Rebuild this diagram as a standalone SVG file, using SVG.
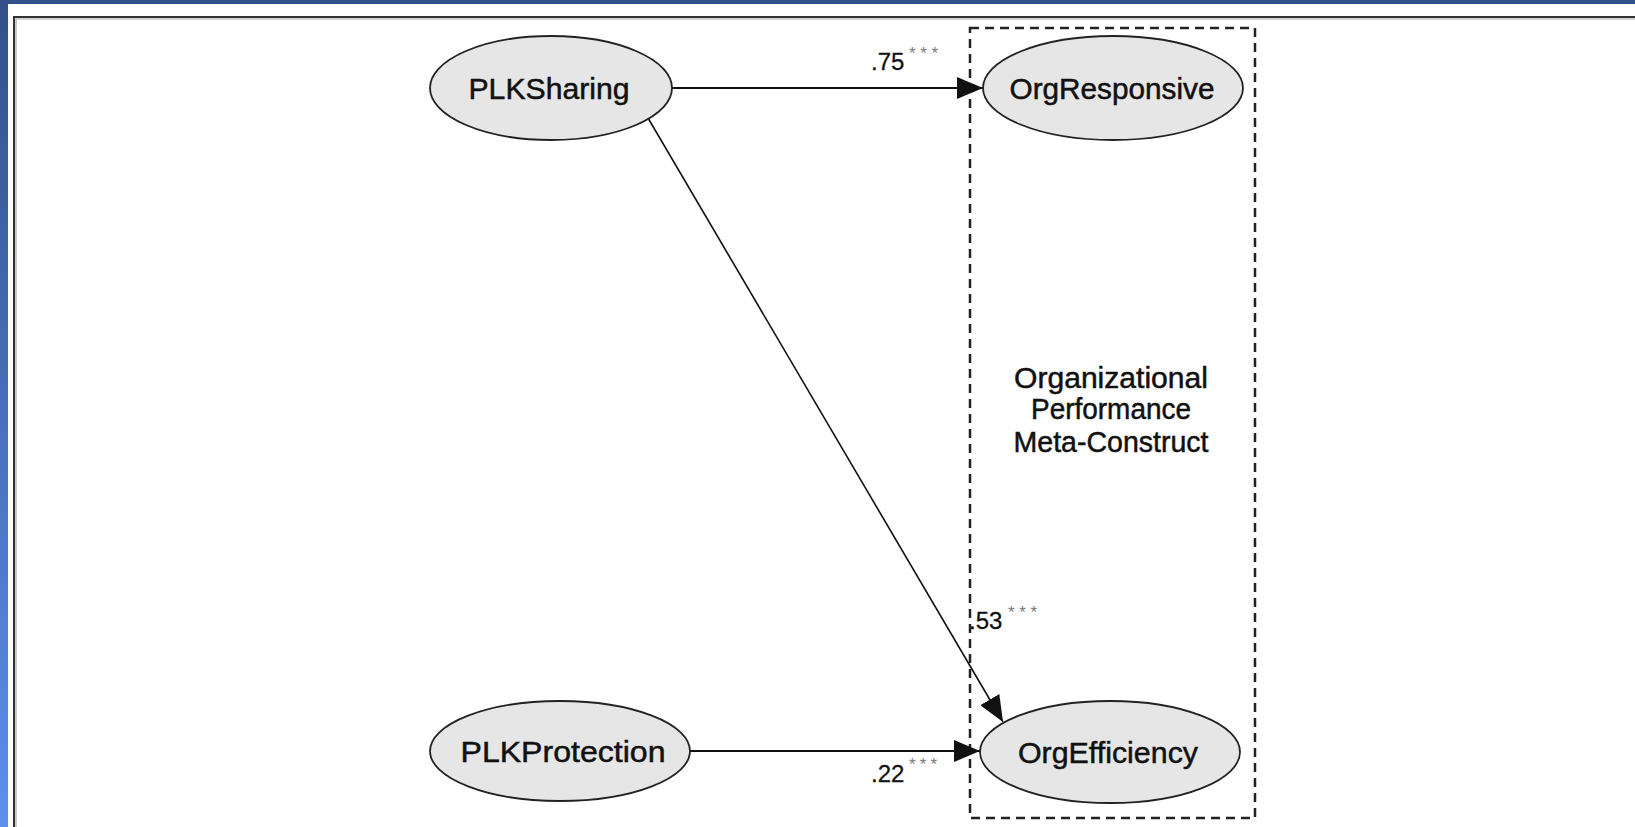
<svg xmlns="http://www.w3.org/2000/svg" width="1635" height="827" viewBox="0 0 1635 827">
  <defs>
    <linearGradient id="sideBar" x1="0" y1="0" x2="0" y2="1">
      <stop offset="0" stop-color="#33508b"/>
      <stop offset="1" stop-color="#5d8feb"/>
    </linearGradient>
    <marker id="arrowHead" viewBox="0 0 26 22" refX="26" refY="11" markerWidth="26" markerHeight="22" markerUnits="userSpaceOnUse" orient="auto">
      <path d="M0,0 L26,11 L0,22 Z" fill="#111"/>
    </marker>
    <style>
      .node ellipse { fill: #e6e6e6; stroke: #222; stroke-width: 1.8; }
      .label { font-family: "Liberation Sans", Arial, sans-serif; font-size: 30px; fill: #111; stroke: #111; stroke-width: 0.5; text-anchor: middle; }
      .coef { font-family: "Liberation Sans", Arial, sans-serif; font-size: 24px; fill: #111; stroke: #111; stroke-width: 0.3; }
      .stars { font-family: "Liberation Sans", Arial, sans-serif; font-size: 17px; fill: #7a7a7a; }
      .edge { fill: none; stroke: #111; stroke-width: 2; marker-end: url(#arrowHead); }
      .meta { fill: none; stroke: #222; stroke-width: 2.5; stroke-dasharray: 9 6; }
    </style>
  </defs>

  <!-- slide background and frame -->
  <rect x="0" y="0" width="1635" height="827" fill="#ffffff"/>
  <rect x="0" y="0" width="1635" height="4" fill="#345089"/>
  <rect x="0" y="0" width="8" height="827" fill="url(#sideBar)"/>
  <path d="M14,827 V17 H1635" fill="none" stroke="#333" stroke-width="2"/>
  <path d="M16,827 V19 H1635" fill="none" stroke="#a8a8a8" stroke-width="1.2"/>

  <!-- meta-construct boundary -->
  <g id="meta-construct">
    <rect class="meta" x="970" y="28" width="285" height="790"/>
    <text class="label" x="1111" y="388" textLength="194" lengthAdjust="spacingAndGlyphs">Organizational</text>
    <text class="label" x="1111" y="419" textLength="160" lengthAdjust="spacingAndGlyphs">Performance</text>
    <text class="label" x="1111" y="452" textLength="195" lengthAdjust="spacingAndGlyphs">Meta-Construct</text>
  </g>

  <!-- connectors -->
  <g id="connectors">
    <line class="edge" x1="672" y1="88" x2="983" y2="88"/>
    <line class="edge" x1="648" y1="118" x2="1003" y2="722" style="stroke-width:1.6"/>
    <line class="edge" x1="690" y1="751" x2="980" y2="751"/>

    <text class="coef" x="871" y="70">.75</text>
    <text class="stars" x="909" y="59" textLength="29" lengthAdjust="spacing">***</text>

    <text class="coef" x="969" y="629">.53</text>
    <text class="stars" x="1008" y="618" textLength="29" lengthAdjust="spacing">***</text>

    <text class="coef" x="871" y="782">.22</text>
    <text class="stars" x="909" y="770" textLength="28" lengthAdjust="spacing">***</text>
  </g>

  <!-- latent constructs -->
  <g id="PLKSharing" class="node">
    <ellipse cx="551" cy="88" rx="121" ry="52"/>
    <text class="label" x="549" y="99" textLength="161" lengthAdjust="spacingAndGlyphs">PLKSharing</text>
  </g>
  <g id="PLKProtection" class="node">
    <ellipse cx="560" cy="751" rx="130" ry="50"/>
    <text class="label" x="563" y="762" textLength="205" lengthAdjust="spacingAndGlyphs">PLKProtection</text>
  </g>
  <g id="OrgResponsive" class="node">
    <ellipse cx="1113" cy="88" rx="130" ry="52"/>
    <text class="label" x="1112" y="99" textLength="205" lengthAdjust="spacingAndGlyphs">OrgResponsive</text>
  </g>
  <g id="OrgEfficiency" class="node">
    <ellipse cx="1110" cy="752" rx="130" ry="51"/>
    <text class="label" x="1108" y="763" textLength="180" lengthAdjust="spacingAndGlyphs">OrgEfficiency</text>
  </g>
</svg>
